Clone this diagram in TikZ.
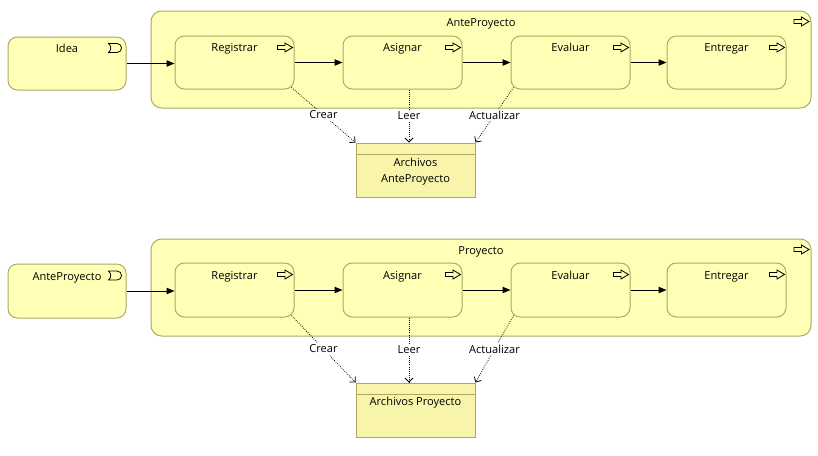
\documentclass[tikz,border=0pt]{standalone}
\usepackage{fontspec}
\setmainfont{Open Sans}
\usetikzlibrary{arrows.meta,fit,calc}
\definecolor{bfill}{RGB}{255,255,181}
\definecolor{bline}{RGB}{170,170,100}
\definecolor{dfill}{RGB}{248,244,170}
\begin{document}
\begin{tikzpicture}[x=0.75pt,y=-0.75pt,
  font=\fontsize{8.3}{12}\selectfont,
  elem/.style={draw=bline, fill=bfill, line width=0.75pt, rounded corners=7pt, inner sep=0pt},
  grp/.style={elem, rounded corners=8pt},
  dobj/.style={draw=bline, fill=dfill, line width=0.75pt, inner sep=0pt},
  txt/.style={inner sep=0pt, align=center, anchor=base},
  lbl/.style={fill=white, inner sep=1.2pt},
  flow/.style={line width=0.75pt, -{Triangle[length=6pt,width=4.8pt]}},
  access/.style={densely dotted, line width=0.6pt, -{Straight Barb[length=3pt,width=6pt]}},
  procicon/.pic={\draw[line width=0.6pt] (-7.5,-2) -- (0,-2) -- (0,-4.5) -- (7.5,0) -- (0,4.5) -- (0,2) -- (-7.5,2) -- cycle;},
  evicon/.pic={\draw[line width=0.6pt] (-7,-4.5) -- (1.5,-4.5) .. controls (7.5,-4.5) and (7.5,4.5) .. (1.5,4.5) -- (-7,4.5) .. controls (-4,2) and (-4,-2) .. (-7,-4.5) -- cycle;}
]
\useasboundingbox (0,0) rectangle (818,455);
\fill[white] (0,0) rectangle (818,455);

% ---------- top ----------
\node[grp, fit={(151,11) (811,108)}] (g1) {};
\node[txt] (g1t) at ($(g1.north)+(0,15.5)$) {AnteProyecto};
\pic at ($(g1.north east)+(-10,11)$) {procicon};

\node[elem, fit={(8,37) (126,90)}] (idea) {};
\node[txt] (ideat) at ($(idea.north)+(0,15.5)$) {Idea};
\pic at ($(idea.north east)+(-11,11.5)$) {evicon};

\foreach \n/\x/\t in {r1/175/Registrar, a1/343/Asignar, e1/511/Evaluar, n1/667/Entregar}{
  \node[elem, fit={(\x,36) (\x+119,89)}] (\n) {};
  \node[txt] (\n t) at ($(\n.north)+(0,16)$) {\t};
  \pic at ($(\n.north east)+(-9.5,12)$) {procicon};
}

\node[dobj, fit={(356,143) (475,197)}] (d1) {};
\draw[bline, line width=0.75pt] ($(d1.north west)+(0,12)$) -- ($(d1.north east)+(0,12)$);
\node[txt] (d1t) at ($(d1.north)+(0,40)$) {Archivos\\AnteProyecto};

\draw[flow] (idea.east) -- (idea.east -| r1.west);
\draw[flow] (r1.east) -- (a1.west);
\draw[flow] (a1.east) -- (e1.west);
\draw[flow] (e1.east) -- (n1.west);

\coordinate (m1) at ($(a1.south)!0.5!(d1.north)$);
\draw[access] ($(r1.south east)+(-3,-2)$) -- (d1.north west) node[midway, lbl] {Crear};
\draw[access] (a1.south -| m1) -- (d1.north -| m1) node[midway, lbl] {Leer};
\draw[access] ($(e1.south west)+(3,-2)$) -- (d1.north east) node[midway, lbl] {Actualizar};

% ---------- bottom ----------
\node[grp, fit={(151,239) (811,336)}] (g2) {};
\node[txt] (g2t) at ($(g2.north)+(0,16)$) {Proyecto};
\pic at ($(g2.north east)+(-10,11)$) {procicon};

\node[elem, fit={(8,264) (126,318)}] (ap) {};
\node[txt] (apt) at ($(ap.north)+(0,17)$) {AnteProyecto};
\pic at ($(ap.north east)+(-11,12)$) {evicon};

\foreach \n/\x/\t in {r2/175/Registrar, a2/343/Asignar, e2/511/Evaluar, n2/667/Entregar}{
  \node[elem, fit={(\x,263) (\x+119,317)}] (\n) {};
  \node[txt] (\n t) at ($(\n.north)+(0,17)$) {\t};
  \pic at ($(\n.north east)+(-9.5,12)$) {procicon};
}

\node[dobj, fit={(356,383) (475,437)}] (d2) {};
\draw[bline, line width=0.75pt] ($(d2.north west)+(0,12)$) -- ($(d2.north east)+(0,12)$);
\node[txt] (d2t) at ($(d2.north)+(0,23)$) {Archivos Proyecto};

\draw[flow] (ap.east) -- (ap.east -| r2.west);
\draw[flow] (r2.east) -- (a2.west);
\draw[flow] (a2.east) -- (e2.west);
\draw[flow] (e2.east) -- (n2.west);

\coordinate (m2) at ($(a2.south)!0.5!(d2.north)$);
\draw[access] ($(r2.south east)+(-3,-2)$) -- (d2.north west) node[midway, lbl] {Crear};
\draw[access] (a2.south -| m2) -- (d2.north -| m2) node[midway, lbl] {Leer};
\draw[access] ($(e2.south west)+(3,-2)$) -- (d2.north east) node[midway, lbl] {Actualizar};
\end{tikzpicture}
\end{document}
